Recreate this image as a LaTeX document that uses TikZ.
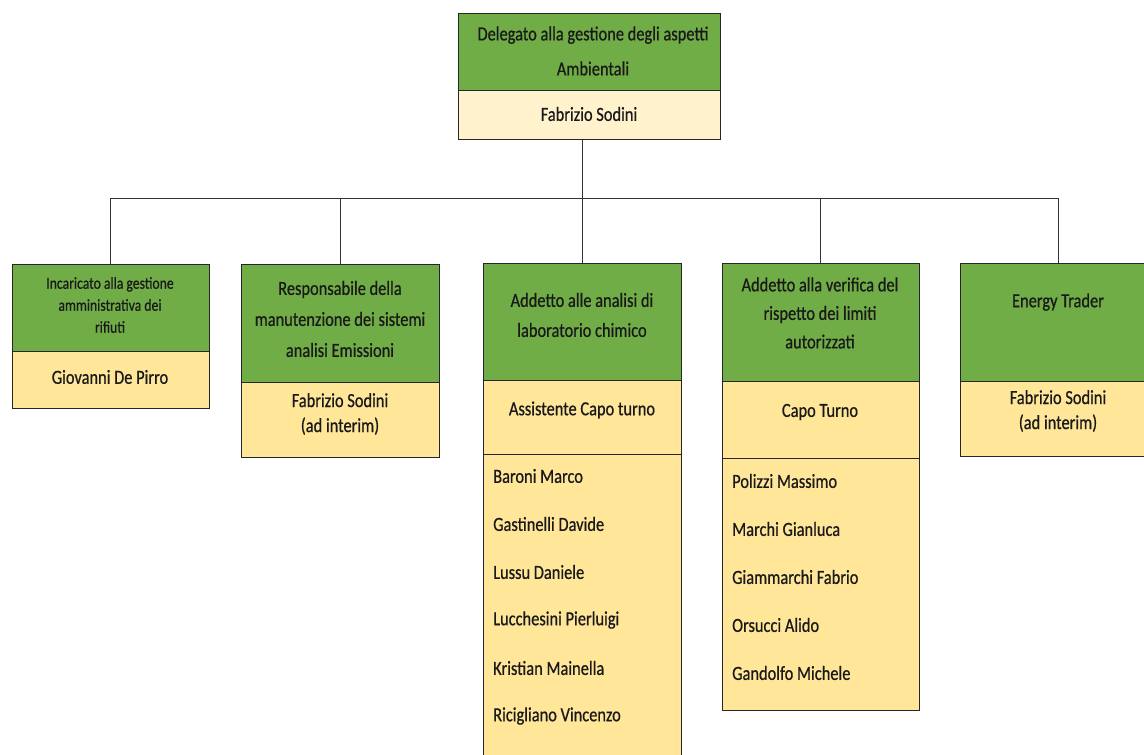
\documentclass[tikz,border=0pt]{standalone}
\usepackage{fontspec}
\setmainfont{Carlito}[FakeStretch=0.82,FakeBold=0.6]
\definecolor{gr}{HTML}{70AD47}
\definecolor{lt}{HTML}{FFF2CC}
\definecolor{yl}{HTML}{FFE699}
\tikzset{
  box/.style={draw=black!85, line width=0.9pt, anchor=north west, inner sep=0pt, outer sep=0pt},
  gbox/.style={box, fill=gr},
  ybox/.style={box, fill=yl},
  lbox/.style={box, fill=lt},
  txt/.style={font=\fontsize{20}{30}\selectfont, align=center, inner sep=0pt, text=black!90},
  conn/.style={draw=black!80, line width=1pt}
}
\begin{document}
\begin{tikzpicture}[x=1pt,y=-1pt]
\useasboundingbox (0,0) rectangle (1144,755);
% boxes
\node[gbox, minimum width=262pt, minimum height=77pt] (g0) at (458,13) {};
\node[lbox, minimum width=262pt, minimum height=49pt] (y0) at (458,90) {};
\node[gbox, minimum width=197pt, minimum height=87pt] (g1) at (12,264) {};
\node[ybox, minimum width=197pt, minimum height=57pt] (y1) at (12,351) {};
\node[gbox, minimum width=198pt, minimum height=118pt] (g2) at (241,264) {};
\node[ybox, minimum width=198pt, minimum height=75pt] (y2) at (241,382) {};
\node[gbox, minimum width=198pt, minimum height=117pt] (g3) at (483,263) {};
\node[ybox, minimum width=198pt, minimum height=74pt] (y3) at (483,380) {};
\node[ybox, minimum width=198pt, minimum height=310pt] (l3) at (483,454) {};
\node[gbox, minimum width=197pt, minimum height=118pt] (g4) at (722,263) {};
\node[ybox, minimum width=197pt, minimum height=77pt] (y4) at (722,381) {};
\node[ybox, minimum width=197pt, minimum height=252pt] (l4) at (722,458) {};
\node[gbox, minimum width=196pt, minimum height=118pt] (g5) at (960,263) {};
\node[ybox, minimum width=196pt, minimum height=75pt] (y5) at (960,381) {};
% connectors
\coordinate (bus) at (582,198);
\draw[conn] (y0.south -| bus) -- (bus);
\draw[conn] (g1.north |- bus) -- (g5.north |- bus);
\foreach \b in {g1,g2,g3,g4,g5} \draw[conn] (\b.north |- bus) -- (\b.north);
% texts
\node[txt, font=\fontsize{20}{35}\selectfont] (t0) at (593,51) {Delegato alla gestione degli aspetti\\Ambientali};
\node[txt] (n0) at (589,114) {Fabrizio Sodini};
\node[txt, font=\fontsize{16.7}{22}\selectfont] (t1) at (110,305) {Incaricato alla gestione\\amministrativa dei\\rifiuti};
\node[txt] (n1) at (110,377) {Giovanni De Pirro};
\node[txt, font=\fontsize{20}{31}\selectfont] (t2) at (340,319) {Responsabile della\\manutenzione dei sistemi\\analisi Emissioni};
\node[txt, font=\fontsize{20}{25}\selectfont] (n2) at (340,414) {Fabrizio Sodini\\(ad interim)};
\node[txt, font=\fontsize{20}{30}\selectfont] (t3) at (582,315) {Addetto alle analisi di\\laboratorio chimico};
\node[txt] (n3) at (582,410) {Assistente Capo turno};
\node[txt, font=\fontsize{20}{28.5}\selectfont] (t4) at (820,313) {Addetto alla verifica del\\rispetto dei limiti\\autorizzati};
\node[txt] (n4) at (820,412) {Capo Turno};
\node[txt] (t5) at (1058,302) {Energy Trader};
\node[txt, font=\fontsize{20}{25}\selectfont] (n5) at (1058,411) {Fabrizio Sodini\\(ad interim)};
\foreach \n [count=\i] in {Baroni Marco,Gastinelli Davide,Lussu Daniele,Lucchesini Pierluigi,Kristian Mainella,Ricigliano Vincenzo}
  \node[txt, anchor=west] (a\i) at (493,{428+48*\i}) {\n};
\foreach \n [count=\i] in {Polizzi Massimo,Marchi Gianluca,Giammarchi Fabrio,Orsucci Alido,Gandolfo Michele}
  \node[txt, anchor=west] (c\i) at (732,{433+48*\i}) {\n};
\end{tikzpicture}
\end{document}
